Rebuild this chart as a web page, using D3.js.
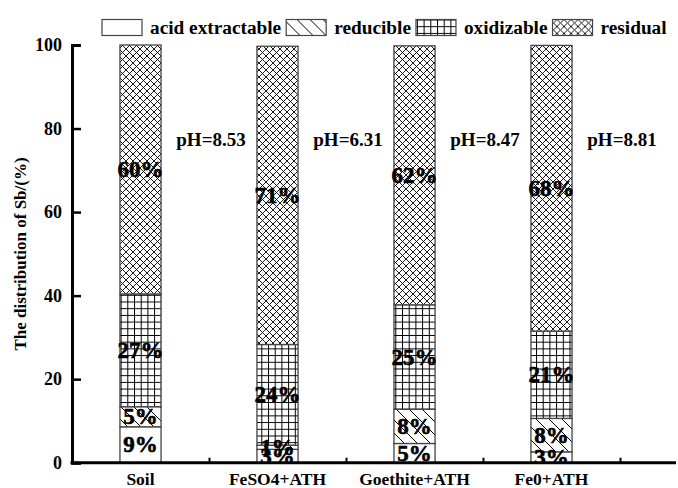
<!DOCTYPE html>
<html>
<head>
<meta charset="utf-8">
<script src="https://cdn.jsdelivr.net/npm/d3@7"></script>
<style>
  html, body { margin: 0; padding: 0; background: #fff; }
  svg { display: block; }
  text { font-family: "Liberation Serif", "Times New Roman", serif; font-weight: bold; fill: #000; }
</style>
</head>
<body>
<svg id="chart" width="678" height="488"></svg>
<script>
// Sb fractionation per treatment (% of total)
const categories = ["Soil", "FeSO4+ATH", "Goethite+ATH", "Fe0+ATH"];
const fractions = ["acid extractable", "reducible", "oxidizable", "residual"];
const acidExtractable = [8.6, 3.2, 4.6, 2.6];
const reducible = [4.8, 1.0, 8.2, 8.0];
const oxidizable = [27.0, 24.1, 25.0, 20.9];
const residual = [59.6, 71.4, 62.0, 68.4];
const pHLabels = ["pH=8.53", "pH=6.31", "pH=8.47", "pH=8.81"];
const yTicks = [0, 20, 40, 60, 80, 100];

const seriesValues = [acidExtractable, reducible, oxidizable, residual];
const rows = categories.map((c, i) => {
  const r = { category: c };
  fractions.forEach((f, j) => { r[f] = seriesValues[j][i]; });
  return r;
});

const svg = d3.select("#chart");
const plotLeft = 72, plotRight = 620, plotTop = 45, plotBottom = 462.7;

const x = d3.scaleBand().domain(categories).range([plotLeft, plotRight]).padding(0);
const y = d3.scaleLinear().domain([0, 100]).range([plotBottom, plotTop]);
const barW = x.bandwidth() * 0.3;

// fill patterns
const defs = svg.append("defs");
const pat = (id, size) => defs.append("pattern")
  .attr("id", id).attr("patternUnits", "userSpaceOnUse")
  .attr("width", size).attr("height", size);

pat("p-acid", 10).append("rect").attr("width", 10).attr("height", 10).attr("fill", "#fff");

const pRed = pat("p-red", 13);
pRed.append("rect").attr("width", 13).attr("height", 13).attr("fill", "#fff");
pRed.append("path").attr("d", "M0,0L13,13M-6.5,6.5L6.5,19.5M6.5,-6.5L19.5,6.5")
  .attr("stroke", "#000").attr("stroke-width", 1);

const pOx = pat("p-ox", 6.7);
pOx.append("rect").attr("width", 6.7).attr("height", 6.7).attr("fill", "#fff");
pOx.append("path").attr("d", "M0,0.5H6.7M0.5,0V6.7")
  .attr("stroke", "#000").attr("stroke-width", 1);

const pRes = pat("p-res", 7);
pRes.append("rect").attr("width", 7).attr("height", 7).attr("fill", "#fff");
pRes.append("path").attr("d", "M0,0L7,7M7,0L0,7M-1,6L1,8M6,-1L8,1M-1,1L1,-1M6,8L8,6")
  .attr("stroke", "#000").attr("stroke-width", 0.9);

const fills = ["url(#p-acid)", "url(#p-red)", "url(#p-ox)", "url(#p-res)"];

// stacked bars
const stack = d3.stack().keys(fractions)(rows);
const layers = svg.append("g").selectAll("g").data(stack).join("g")
  .attr("fill", (d, i) => fills[i]);
layers.selectAll("rect").data(d => d).join("rect")
  .attr("x", d => x(d.data.category) + (x.bandwidth() - barW) / 2)
  .attr("width", barW)
  .attr("y", d => y(d[1]))
  .attr("height", d => y(d[0]) - y(d[1]))
  .attr("stroke", "#444").attr("stroke-width", 1.3);

// percentage labels, clipped to the plotting area
defs.append("clipPath").attr("id", "plot-clip").append("rect")
  .attr("x", plotLeft).attr("y", 0).attr("width", 678 - plotLeft).attr("height", plotBottom - 1);
const labels = svg.append("g").attr("clip-path", "url(#plot-clip)");
stack.forEach(layer => {
  labels.append("g").selectAll("text").data(layer).join("text")
    .attr("x", d => x(d.data.category) + x.bandwidth() / 2)
    .attr("y", d => y((d[0] + d[1]) / 2))
    .attr("text-anchor", "middle")
    .attr("dominant-baseline", "central")
    .attr("font-size", 23)
    .attr("stroke", "#000").attr("stroke-width", 0.6)
    .text(d => d3.format(".0f")(d[1] - d[0]) + "%");
});

// pH annotations
svg.append("g").selectAll("text").data(categories).join("text")
  .attr("x", c => x(c) + x.bandwidth() + 2)
  .attr("y", 146)
  .attr("text-anchor", "middle")
  .attr("font-size", 19)
  .text((c, i) => pHLabels[i]);

// y axis
const yAxis = svg.append("g").attr("transform", `translate(${plotLeft},0)`)
  .call(d3.axisLeft(y).tickValues(yTicks).tickSize(-9).tickPadding(10).tickFormat(d3.format("d")));
yAxis.select(".domain").attr("stroke", "#000").attr("stroke-width", 3);
yAxis.selectAll(".tick line").attr("stroke", "#000").attr("stroke-width", 2.5);
yAxis.selectAll(".tick text").attr("font-size", 18).attr("font-family", null).attr("font-weight", "bold");

// x axis: boundary ticks between categories
const xb = d3.scaleLinear().domain([0, categories.length]).range([plotLeft, plotRight]);
const xAxis = svg.append("g").attr("transform", `translate(0,${plotBottom})`)
  .call(d3.axisBottom(xb).tickValues(d3.range(1, categories.length + 1)).tickSize(-5).tickFormat(""));
xAxis.select(".domain").remove();
xAxis.selectAll(".tick line").attr("stroke", "#000").attr("stroke-width", 2);
xAxis.append("line").attr("x1", plotLeft - 1.5).attr("x2", 676).attr("y1", 0).attr("y2", 0)
  .attr("stroke", "#000").attr("stroke-width", 3);

const catAxis = svg.append("g").attr("transform", `translate(0,${plotBottom})`)
  .call(d3.axisBottom(x).tickSize(0).tickPadding(10));
catAxis.select(".domain").remove();
catAxis.selectAll(".tick text").attr("font-size", 17.5).attr("font-family", null).attr("font-weight", "bold");

// y axis title
svg.append("text")
  .attr("transform", "translate(25.5,254) rotate(-90)")
  .attr("text-anchor", "middle")
  .attr("font-size", 17)
  .text("The distribution of Sb/(%)");

// legend
const legend = svg.append("g").attr("transform", "translate(102,19.5)");
let lx = 0;
fractions.forEach((f, i) => {
  legend.append("rect").attr("x", lx).attr("y", 0).attr("width", 40).attr("height", 16)
    .attr("fill", fills[i]).attr("stroke", "#444").attr("stroke-width", 1.2);
  const t = legend.append("text").attr("x", lx + 48).attr("y", 14)
    .attr("font-size", 19.3).text(f);
  lx += 48 + t.node().getComputedTextLength() + 5;
});
</script>
</body>
</html>
